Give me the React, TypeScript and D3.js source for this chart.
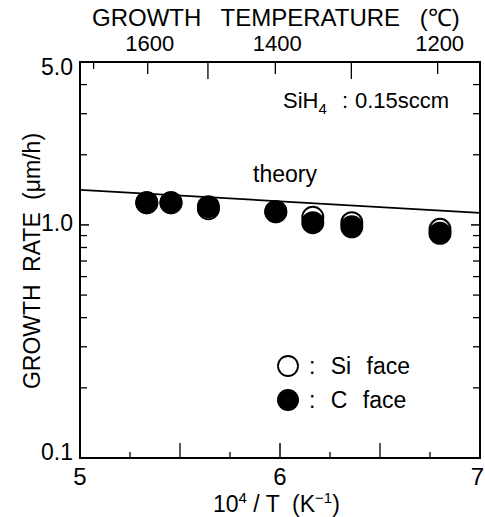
import React from "react";
import * as d3 from "d3";

const cFaceX = [5.334, 5.455, 5.642, 5.979, 6.164, 6.359, 6.8];
const cFaceY = [1.245, 1.245, 1.197, 1.139, 1.022, 0.982, 0.92];
const siFaceX = [5.334, 5.455, 5.642, 5.979, 6.164, 6.359, 6.8];
const siFaceY = [1.245, 1.245, 1.174, 1.139, 1.078, 1.022, 0.957];
const theoryX = [5, 7];
const theoryY = [1.415, 1.127];
const yMajorTicks = [0.1, 1.0, 5.0];
const yMinorTicks = [0.2, 0.3, 0.4, 0.5, 0.6, 0.7, 0.8, 0.9, 2, 3, 4];
const xMajorTicks = [5, 6, 7];
const xMinorTicks = [5.25, 5.5, 5.75, 6.25, 6.5, 6.75];
const xTallMinor = [5.5, 6.5];
const topLabeledC = [1600, 1400, 1200];
const topUnlabeledC = [1700, 1500, 1300];

export default function App() {
  const W = 485, H = 517;
  const L = 80, R = 480, T = 62, B = 458;
  const x = d3.scaleLinear().domain([5, 7]).range([L, R]);
  const y = d3.scaleLog().domain([0.1, 5]).range([B, T]);
  const cToX = (c: number) => x(1e4 / (c + 273.15));
  const font = "'Liberation Sans', Arial, Helvetica, sans-serif";
  const line = d3.line<number>().x((_, i) => x(theoryX[i])).y((d) => y(d));
  const r = 11.5;
  return (
    <svg width={W} height={H} style={{ position: "absolute", left: 0, top: 0, background: "#fff" }} fontFamily={font}>
      <rect x={0} y={0} width={W} height={H} fill="#fff" />
      {/* frame */}
      <rect x={L} y={T} width={R - L} height={B - T} fill="none" stroke="#000" strokeWidth={2} />
      {/* left & right y ticks */}
      {yMajorTicks.map((v) => (
        <g key={"ym" + v}>
          <line x1={L} x2={L + 9} y1={y(v)} y2={y(v)} stroke="#000" strokeWidth={1.5} />
          <line x1={R} x2={R - 9} y1={y(v)} y2={y(v)} stroke="#000" strokeWidth={1.5} />
          <text x={L - 7} y={y(v) + (v === 5 ? 13 : v === 0.1 ? 2 : 6)} textAnchor="end" fontSize={23}>{v.toFixed(1)}</text>
        </g>
      ))}
      {yMinorTicks.map((v) => (
        <g key={"yn" + v}>
          <line x1={L} x2={L + 7} y1={y(v)} y2={y(v)} stroke="#000" strokeWidth={1.3} />
          <line x1={R} x2={R - 7} y1={y(v)} y2={y(v)} stroke="#000" strokeWidth={1.3} />
        </g>
      ))}
      {/* bottom ticks */}
      {xMajorTicks.map((v) => (
        <g key={"xm" + v}>
          {v !== 5 && v !== 7 && <line x1={x(v)} x2={x(v)} y1={B} y2={B - 15} stroke="#000" strokeWidth={1.5} />}
          <text x={v === 7 ? W - 1 : x(v)} y={B + 27} textAnchor={v === 7 ? "end" : "middle"} fontSize={24}>{v}</text>
        </g>
      ))}
      {xMinorTicks.map((v) => (
        <line key={"xn" + v} x1={x(v)} x2={x(v)} y1={B} y2={B - (xTallMinor.includes(v) ? 15 : 6)} stroke="#000" strokeWidth={1.3} />
      ))}
      {/* top ticks */}
      {topLabeledC.map((c) => (
        <g key={"tc" + c}>
          <line x1={cToX(c)} x2={cToX(c)} y1={T} y2={T + 12} stroke="#000" strokeWidth={1.3} />
          <text x={cToX(c) + 2} y={T - 11} textAnchor="middle" fontSize={22}>{c}</text>
        </g>
      ))}
      {topUnlabeledC.map((c) => (
        <line key={"tu" + c} x1={cToX(c)} x2={cToX(c)} y1={T} y2={T + (c === 1700 ? 7 : 17)} stroke="#000" strokeWidth={1.3} />
      ))}
      {/* titles */}
      <text x={92} y={26} fontSize={24} wordSpacing={13}>GROWTH TEMPERATURE (℃)</text>
      <text x={213} y={512} fontSize={23}>
        10<tspan dy={-9} fontSize={15}>4</tspan><tspan dy={9} xmlSpace="preserve"> / T  (K</tspan><tspan dy={-9} fontSize={15}>−1</tspan><tspan dy={9}>)</tspan>
      </text>
      <text transform={`translate(40,${261}) rotate(-90)`} textAnchor="middle" fontSize={23} wordSpacing={6}>
        GROWTH RATE (μm/h)
      </text>
      {/* annotations */}
      <text x={283} y={108} fontSize={22}>
        SiH<tspan dy={6} fontSize={15}>4</tspan><tspan x={342} dy={-6}>:</tspan><tspan x={355}>0.15sccm</tspan>
      </text>
      <text x={253} y={182} fontSize={23}>theory</text>
      {/* theory line */}
      <path d={line(theoryY) || ""} fill="none" stroke="#000" strokeWidth={1.8} />
      {/* Si face (open) */}
      {siFaceX.map((v, i) => (
        <circle key={"si" + i} cx={x(v)} cy={y(siFaceY[i])} r={r - 1} fill="#fff" stroke="#000" strokeWidth={2} />
      ))}
      {/* C face (filled) */}
      {cFaceX.map((v, i) => (
        <circle key={"c" + i} cx={x(v)} cy={y(cFaceY[i])} r={r} fill="#000" />
      ))}
      {/* legend */}
      <circle cx={288} cy={366} r={10} fill="#fff" stroke="#000" strokeWidth={1.8} />
      <text x={309} y={374} fontSize={23} wordSpacing={9}>: Si face</text>
      <circle cx={288} cy={400} r={11} fill="#000" />
      <text x={309} y={408} fontSize={23} wordSpacing={9}>: C face</text>
    </svg>
  );
}
